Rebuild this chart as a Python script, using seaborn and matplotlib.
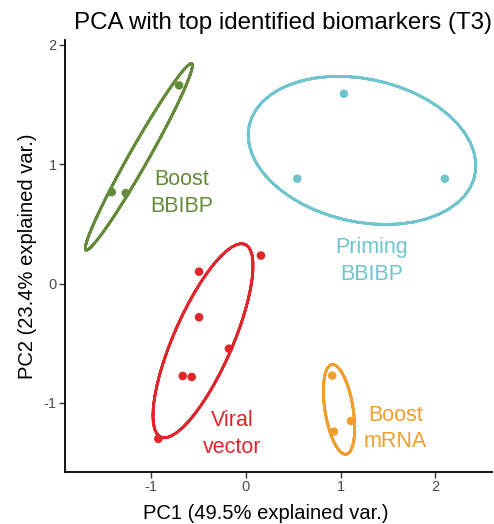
import numpy as np
import pandas as pd
import matplotlib
matplotlib.use("Agg")
import matplotlib.pyplot as plt
import seaborn as sns

# ---- data ----
groups = ["Boost BBIBP", "Priming BBIBP", "Viral vector", "Boost mRNA"]
boost_bbibp_pc1 = [-0.707, -1.418, -1.270]
boost_bbibp_pc2 = [1.660, 0.766, 0.758]
priming_bbibp_pc1 = [1.035, 0.542, 2.101]
priming_bbibp_pc2 = [1.590, 0.878, 0.878]
viral_vector_pc1 = [-0.496, 0.158, -0.496, -0.180, -0.668, -0.573, -0.926]
viral_vector_pc2 = [0.100, 0.235, -0.282, -0.545, -0.774, -0.782, -1.300]
boost_mrna_pc1 = [0.911, 1.109, 0.929]
boost_mrna_pc2 = [-0.771, -1.151, -1.240]

label_text = ["Boost\nBBIBP", "Priming\nBBIBP", "Viral\nvector", "Boost\nmRNA"]
label_pc1 = [-0.68, 1.33, -0.15, 1.58]
label_pc2 = [0.76, 0.19, -1.26, -1.215]

colors = {"Boost BBIBP": "#638B3A", "Priming BBIBP": "#6EC5CE",
          "Viral vector": "#E0262B", "Boost mRNA": "#F09E2C"}

x_ticks = [-1, 0, 1, 2]
y_ticks = [-1, 0, 1, 2]
title = "PCA with top identified biomarkers (T3)"
xlab = "PC1 (49.5% explained var.)"
ylab = "PC2 (23.4% explained var.)"
ellipse_prob = 0.68

pc1 = {g: v for g, v in zip(groups, [boost_bbibp_pc1, priming_bbibp_pc1, viral_vector_pc1, boost_mrna_pc1])}
pc2 = {g: v for g, v in zip(groups, [boost_bbibp_pc2, priming_bbibp_pc2, viral_vector_pc2, boost_mrna_pc2])}

df = pd.DataFrame([(g, x, y) for g in groups for x, y in zip(pc1[g], pc2[g])],
                  columns=["group", "PC1", "PC2"])

# ggbiplot-style normal ellipses
theta = np.concatenate([np.linspace(-np.pi, np.pi, 50), np.linspace(np.pi, -np.pi, 50)])
circle = np.column_stack([np.cos(theta), np.sin(theta)])
ed = np.sqrt(-2 * np.log(1 - ellipse_prob))
ell_rows = []
for g in groups:
    pts = np.column_stack([pc1[g], pc2[g]])
    sigma = np.cov(pts, rowvar=False)
    mu = pts.mean(axis=0)
    R = np.linalg.cholesky(sigma).T
    e = circle @ R * ed + mu
    for i, (ex, ey) in enumerate(e):
        ell_rows.append((g, i, ex, ey))
ell = pd.DataFrame(ell_rows, columns=["group", "order", "PC1", "PC2"])

# ---- plot ----
sns.set_theme(style="ticks")
plt.rcParams["font.family"] = ["Liberation Sans", "DejaVu Sans"]

fig = plt.figure(figsize=(4.94, 5.24), dpi=100)
ax = fig.add_axes([65 / 494, 52 / 524, 427 / 494, 432 / 524])

for g in groups:
    sub = ell[ell["group"] == g]
    sns.lineplot(data=sub, x="PC1", y="PC2", sort=False, estimator=None,
                 color=colors[g], linewidth=2.0, ax=ax)

sns.scatterplot(data=df, x="PC1", y="PC2", hue="group", palette=colors,
                s=38, edgecolor="none", legend=False, ax=ax, zorder=3)

for t, x, y, g in zip(label_text, label_pc1, label_pc2, groups):
    ax.text(x, y, t, color=colors[g], fontsize=15.5, ha="center", va="center",
            linespacing=1.35)

ax.set_xlim(-1.912, 2.599)
ax.set_ylim(-1.578, 2.04)
ax.set_xticks(x_ticks)
ax.set_yticks(y_ticks)
ax.set_xticklabels([str(v) for v in x_ticks])
ax.set_yticklabels([str(v) for v in y_ticks])
ax.tick_params(axis="both", colors="#333333", labelcolor="#4D4D4D",
               labelsize=10.5, length=4, width=1, pad=2)
for s in ["top", "right"]:
    ax.spines[s].set_visible(False)
for s in ["left", "bottom"]:
    ax.spines[s].set_linewidth(1.3)
    ax.spines[s].set_color("black")

ax.set_xlabel(xlab, fontsize=14.5, color="black")
ax.xaxis.set_label_coords((265.5 - 65) / 427, -0.075)
ax.set_ylabel(ylab, fontsize=14.5, color="black", labelpad=5)
ax.set_title(title, fontsize=17.4, color="black", pad=8, x=(282.5 - 65) / 427)

fig.savefig("out.png", dpi=100)
